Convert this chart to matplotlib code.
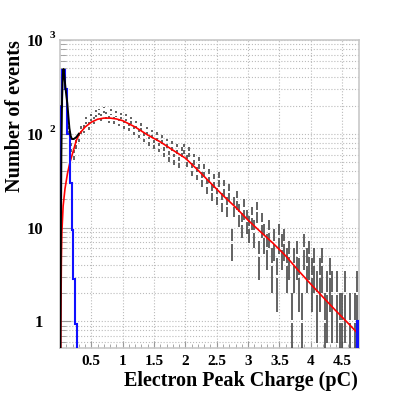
import numpy as np
import matplotlib
matplotlib.use('Agg')
import matplotlib.pyplot as plt
from matplotlib.ticker import FixedLocator, FixedFormatter, LogLocator, MultipleLocator, NullFormatter

plt.rcParams['font.family'] = 'Liberation Serif'
plt.rcParams['font.weight'] = 'bold'

# measured charge histogram (counts per 0.04 pC bin)
bin_width = 0.04
counts = [190, 470, 290, 110, 72, 60, 78, 92, 110, 112,
          138, 122, 150, 138, 165, 172, 150, 180, 158, 142,
          170, 140, 162, 132, 155, 125, 150, 118, 140, 108,
          126, 100, 118, 92, 108, 84, 100, 78, 94, 72,
          88, 64, 80, 58, 75, 54, 70, 50, 64, 70,
          52, 64, 42, 54, 38, 49, 33, 41, 28, 36,
          24, 32, 22, 33, 19, 27, 17, 24, 7, 17,
          20, 14, 11, 16, 12, 10, 13, 9, 15, 5,
          11, 8, 6, 9, 4, 7, 3, 8, 6, 7,
          4, 5, 1, 4, 5, 3, 1, 6, 4, 5,
          3, 4, 2, 3, 4, 1, 2, 3, 2, 0,
          2, 1, 1, 2, 0, 1, 0, 1, 2]

# pedestal histogram (blue)
ped_edges = [0.005, 0.03, 0.074, 0.11, 0.153, 0.19, 0.21, 0.244, 0.27, 4.74, 4.77]
ped_vals = [194, 480, 300, 100, 30, 9.5, 2.8, 0.93, 0, 1.0]

# full fit (pedestal + signal), black
fit_x = [0.006, 0.014, 0.022, 0.032, 0.045, 0.056, 0.068, 0.085, 0.1, 0.117,
         0.135, 0.15, 0.17, 0.19, 0.22, 0.26, 0.3]
fit_y = [0.5, 8, 60, 220, 430, 490, 420, 320, 260, 210,
         150, 115, 95, 88, 88, 92, 100]

# signal fit, red
sig_x = [0.012, 0.016, 0.022, 0.03, 0.05, 0.08, 0.12, 0.16, 0.21, 0.26,
         0.31, 0.4, 0.5, 0.6, 0.7, 0.8, 0.9, 1.0, 1.2, 1.4,
         1.6, 1.8, 2.0, 2.2, 2.4, 2.6, 2.8, 3.0, 3.2, 3.4,
         3.6, 3.8, 4.0, 4.2, 4.4, 4.6, 4.77]
sig_y = [0.5, 1.5, 4.5, 9, 17, 26, 38, 50, 65, 85,
         100, 118, 133, 143, 147, 147, 144, 138, 118, 97,
         82, 67, 55, 41, 30, 22, 16.5, 12, 9, 6.8,
         5, 3.5, 2.5, 1.8, 1.3, 0.95, 0.72]

xtick_vals = [0.5, 1, 1.5, 2, 2.5, 3, 3.5, 4, 4.5]
xtick_labels = ['0.5', '1', '1.5', '2', '2.5', '3', '3.5', '4', '4.5']

fig = plt.figure(figsize=(3.99, 3.99), dpi=100)
ax = fig.add_axes([60 / 399, 1 - 348 / 399, 299 / 399, 308 / 399])
ax.set_yscale('log')

# data points: poisson error bars with a gap at the value
c = np.array(counts, dtype=float)
x = 0.02 + bin_width * np.arange(len(c))
ok = c > 0
err = np.sqrt(c[ok])
lo = np.maximum(c[ok] - err, 0.3)
hi = c[ok] + err
ax.vlines(x[ok], lo, c[ok] / 1.035, color='#484848', lw=1.2, zorder=3)
ax.vlines(x[ok], c[ok] * 1.035, hi, color='#484848', lw=1.2, zorder=3)

# red fit sits under the pedestal curves at the far left, over the data elsewhere
ax.plot(sig_x, sig_y, color='#ff0000', lw=1.2, zorder=4)
ax.stairs(np.clip(ped_vals, 1e-3, None), ped_edges, color='#1010ff', lw=1.5, zorder=5,
          baseline=1e-3)
ax.plot(fit_x, fit_y, color='black', lw=1.4, zorder=6)

ax.set_xlim(0, 4.77)
ax.set_ylim(0.52, 1000)

ax.xaxis.set_major_locator(FixedLocator(xtick_vals))
ax.xaxis.set_major_formatter(FixedFormatter(xtick_labels))
ax.xaxis.set_minor_locator(MultipleLocator(0.1))
ax.yaxis.set_major_locator(FixedLocator([1, 10, 100, 1000]))
ax.yaxis.set_major_formatter(FixedFormatter(['1', '10', '10', '10']))
ax.yaxis.set_minor_locator(LogLocator(base=10, subs=np.arange(2, 10)))
ax.yaxis.set_minor_formatter(NullFormatter())

ax.grid(True, which='major', axis='x', ls=':', color='#bbbbbb', lw=0.8)
ax.grid(True, which='both', axis='y', ls=':', color='#bbbbbb', lw=0.8)
ax.set_axisbelow(True)

ax.tick_params(which='both', direction='in', color='#999999', labelcolor='black')
ax.tick_params(axis='x', which='major', length=5, pad=5, labelsize=11)
ax.tick_params(axis='x', which='minor', length=3)
ax.tick_params(axis='y', which='major', length=8, pad=12, labelsize=12)
ax.tick_params(axis='y', which='minor', length=4)
for s in ax.spines.values():
    s.set_color('#c8c8c8')
    s.set_linewidth(1.2)

for val, sup in [(100, '2'), (1000, '3')]:
    ax.annotate(sup, xy=(-0.027, val), xycoords=ax.get_yaxis_transform(),
                xytext=(0, 3), textcoords='offset points', ha='center', va='center',
                fontsize=8)

fig.text(15 / 399, 1 - 40 / 399, 'Number of events', rotation=90, ha='center', va='top',
         fontsize=14.5)
fig.text(358 / 399, 1 - 381 / 399, 'Electron Peak Charge (pC)', ha='right', va='center',
         fontsize=14.5)

fig.savefig('out.png', dpi=100)
